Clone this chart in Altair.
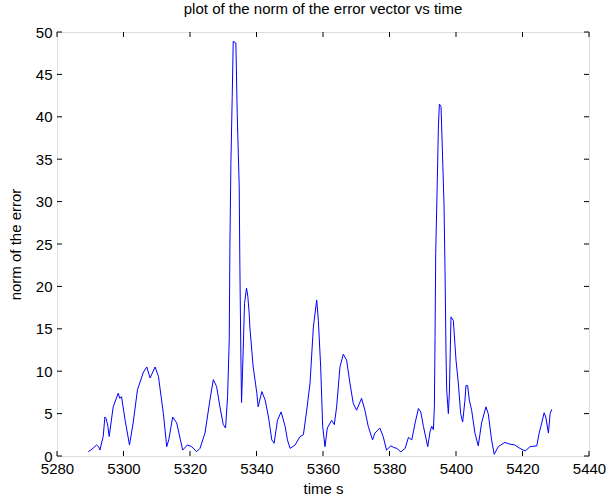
import altair as alt
import pandas as pd

time_s = [5289.4, 5290.5, 5291.9, 5292.5, 5292.9, 5293.9, 5294.4, 5294.8, 5295.3, 5295.7,
          5296.9, 5298.4, 5298.9, 5299.4, 5300.5, 5301.8, 5302.9, 5304.2, 5306.0, 5307.0,
          5308.0, 5309.5, 5310.5, 5312.0, 5313.0, 5313.6, 5314.8, 5316.0, 5317.8, 5319.2,
          5320.5, 5322.0, 5323.0, 5324.5, 5326.0, 5327.0, 5328.0, 5329.0, 5330.0, 5330.7,
          5331.3, 5331.8, 5332.0, 5332.3, 5332.7, 5333.0, 5333.8, 5334.2, 5334.8, 5335.0,
          5335.3, 5335.5, 5335.8, 5336.0, 5336.4, 5337.0, 5337.4, 5337.8, 5338.0, 5339.0,
          5340.1, 5340.5, 5341.6, 5342.6, 5343.6, 5344.6, 5345.3, 5346.3, 5347.4, 5348.6,
          5349.3, 5350.1, 5351.6, 5353.1, 5354.1, 5355.1, 5356.1, 5357.1, 5358.1, 5358.6,
          5359.3, 5359.9, 5360.6, 5361.3, 5362.6, 5363.4, 5364.1, 5365.1, 5366.1, 5367.1,
          5368.1, 5369.1, 5370.1, 5371.6, 5372.6, 5373.6, 5374.9, 5375.6, 5377.1, 5378.1,
          5379.1, 5380.4, 5381.3, 5382.2, 5383.4, 5384.7, 5385.7, 5386.7, 5387.7, 5388.7,
          5389.4, 5390.2, 5391.5, 5392.2, 5392.7, 5393.2, 5393.5, 5393.7, 5393.9, 5394.4,
          5394.7, 5395.0, 5395.5, 5395.9, 5396.4, 5396.7, 5397.0, 5397.2, 5397.7, 5398.0,
          5398.5, 5399.2, 5400.0, 5400.7, 5401.4, 5402.0, 5402.7, 5403.0, 5403.5, 5404.0,
          5404.7, 5405.7, 5406.7, 5407.7, 5409.0, 5409.7, 5410.7, 5411.5, 5412.7, 5414.7,
          5416.2, 5417.7, 5419.2, 5420.8, 5422.3, 5424.3, 5425.0, 5425.8, 5426.5, 5427.0,
          5427.8, 5428.3, 5428.8]
error_norm = [0.5, 0.8, 1.3, 1.1, 0.7, 2.3, 4.6, 4.4, 3.5, 2.3,
              5.8, 7.4, 6.8, 7.0, 4.2, 1.3, 3.9, 7.8, 9.9, 10.5,
              9.2, 10.5, 9.4, 5.0, 1.1, 1.9, 4.6, 3.9, 0.7, 1.3,
              1.1, 0.5, 0.9, 2.7, 6.6, 9.0, 8.2, 5.8, 3.7, 3.3,
              7.0, 13.7, 24.7, 34.5, 42.4, 48.9, 48.7, 40.4, 31.8, 22.3,
              12.0, 6.3, 10.0, 12.5, 18.0, 19.8, 18.8, 16.8, 15.2, 10.5,
              7.4, 5.8, 7.6, 6.6, 4.6, 1.9, 1.5, 4.2, 5.2, 3.5,
              1.9, 0.9, 1.3, 2.3, 2.5, 5.4, 8.6, 15.2, 18.4, 16.0,
              10.5, 3.5, 1.1, 3.3, 4.2, 3.7, 5.8, 10.5, 12.0, 11.3,
              8.6, 6.2, 5.4, 6.8, 5.4, 3.5, 1.9, 2.7, 3.3, 2.3,
              0.7, 1.2, 1.0, 0.9, 0.5, 0.9, 2.2, 1.9, 3.9, 5.6,
              5.2, 3.5, 1.1, 2.9, 3.5, 3.1, 5.8, 14.1, 23.9, 32.9,
              38.8, 41.5, 41.2, 36.1, 29.6, 21.9, 12.0, 7.8, 5.0, 7.4,
              16.4, 16.0, 11.3, 8.6, 5.0, 4.0, 6.6, 8.3, 8.3, 6.6,
              5.4, 2.7, 1.2, 3.9, 5.8, 5.0, 1.9, 0.2, 1.1, 1.6,
              1.4, 1.3, 0.9, 0.6, 1.1, 1.2, 2.7, 3.9, 5.1, 4.6,
              2.7, 5.0, 5.5]

x_ticks = [5280, 5300, 5320, 5340, 5360, 5380, 5400, 5420, 5440]
y_ticks = [0, 5, 10, 15, 20, 25, 30, 35, 40, 45, 50]

W, H = 532, 424
FONT = "Liberation Sans"
FS = 15

df = pd.DataFrame({"t": time_s, "e": error_norm})
xt = pd.DataFrame({"xt": x_ticks})
yt = pd.DataFrame({"yt": y_ticks})

xscale = alt.Scale(domain=[5280, 5440], nice=False, zero=False)
yscale = alt.Scale(domain=[0, 50], nice=False)

line = alt.Chart(df).mark_line(color="#0000ff", strokeWidth=1).encode(
    x=alt.X("t:Q", scale=xscale,
            axis=alt.Axis(values=x_ticks, format="d", ticks=False, grid=False, domain=False,
                          labelFont=FONT, labelFontSize=FS, labelColor="black",
                          labelPadding=5, title="time s", titleFont=FONT,
                          titleFontSize=FS, titleFontWeight="normal",
                          titleColor="black", titlePadding=5, labelFlush=False)),
    y=alt.Y("e:Q", scale=yscale,
            axis=alt.Axis(values=y_ticks, format="d", ticks=False, grid=False, domain=False,
                          labelFont=FONT, labelFontSize=FS, labelColor="black",
                          labelPadding=5, title="norm of the error", titleFont=FONT,
                          titleFontSize=FS, titleFontWeight="normal",
                          titleColor="black", titlePadding=12, labelFlush=False)),
)

tick_len = 5
bottom_ticks = alt.Chart(xt).mark_rule(color="black", strokeWidth=1).encode(
    x=alt.X("xt:Q", scale=xscale), y=alt.value(H), y2=alt.value(H - tick_len))
top_ticks = alt.Chart(xt).mark_rule(color="black", strokeWidth=1).encode(
    x=alt.X("xt:Q", scale=xscale), y=alt.value(0), y2=alt.value(tick_len))
left_ticks = alt.Chart(yt).mark_rule(color="black", strokeWidth=1).encode(
    y=alt.Y("yt:Q", scale=yscale), x=alt.value(0), x2=alt.value(tick_len))
right_ticks = alt.Chart(yt).mark_rule(color="black", strokeWidth=1).encode(
    y=alt.Y("yt:Q", scale=yscale), x=alt.value(W), x2=alt.value(W - tick_len))

chart = alt.layer(line, bottom_ticks, top_ticks, left_ticks, right_ticks).properties(
    width=W, height=H,
    title=alt.TitleParams("plot of the norm of the error vector vs time", font=FONT,
                          fontSize=FS, fontWeight="normal", color="black", offset=8),
    autosize=alt.AutoSizeParams(type="none"),
    padding={"left": 57, "top": 32, "right": 17, "bottom": 45},
).configure_view(stroke="black", strokeWidth=1.2).configure(background="white")

chart.save("out.html", embed_options={"renderer": "svg", "actions": False})
